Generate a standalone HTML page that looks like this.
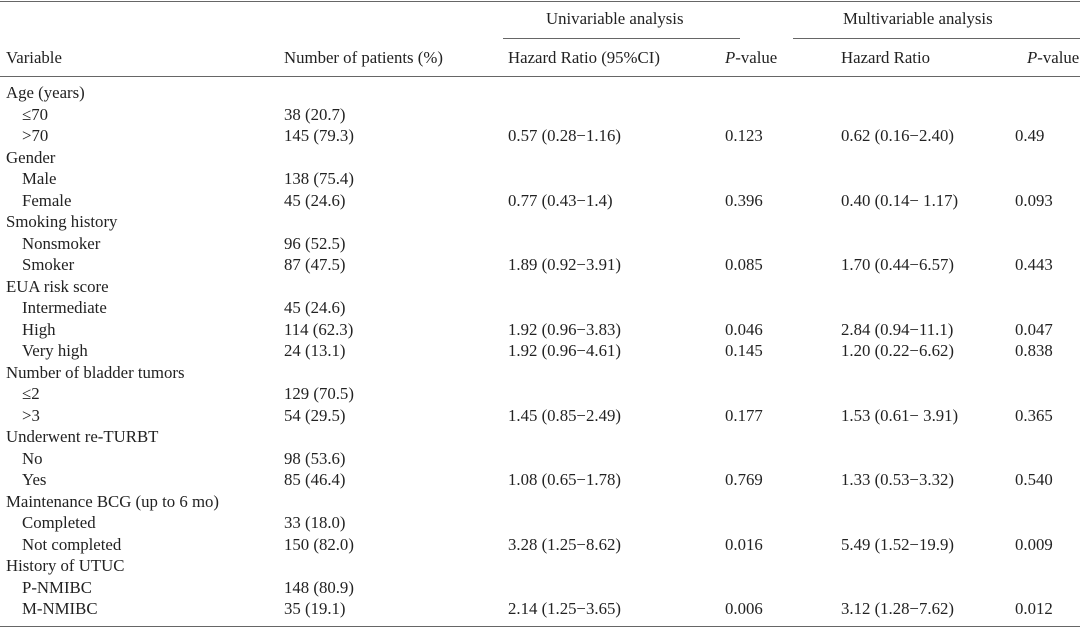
<!DOCTYPE html>
<html><head><meta charset="utf-8"><style>
body{margin:0;width:1080px;height:628px;background:#fff;position:relative;overflow:hidden;font-family:"Liberation Serif",serif;font-size:16.8px;color:#222}
.t{position:absolute;white-space:nowrap;line-height:20px}
.l{position:absolute;height:1.4px;background:#666}
</style></head><body>
<div class="l" style="left:0;width:1080px;top:0.5px"></div>
<div class="l" style="left:503px;width:237px;top:38px"></div>
<div class="l" style="left:793px;width:287px;top:38px"></div>
<div class="l" style="left:0;width:1080px;top:75.5px"></div>
<div class="l" style="left:0;width:1080px;top:625.5px"></div>
<div class="t" style="left:546px;top:9px">Univariable analysis</div>
<div class="t" style="left:843px;top:9px">Multivariable analysis</div>
<div class="t" style="left:6px;top:48px">Variable</div>
<div class="t" style="left:284px;top:48px">Number of patients (%)</div>
<div class="t" style="left:508px;top:48px">Hazard Ratio (95%CI)</div>
<div class="t" style="left:725px;top:48px"><i>P</i>-value</div>
<div class="t" style="left:841px;top:48px">Hazard Ratio</div>
<div class="t" style="left:1027px;top:48px"><i>P</i>-value</div>
<div id="rows"></div>
<script>
var R=[["Age (years)"],["≤70","38 (20.7)"],[">70","145 (79.3)","0.57 (0.28−1.16)","0.123","0.62 (0.16−2.40)","0.49"],
["Gender"],["Male","138 (75.4)"],["Female","45 (24.6)","0.77 (0.43−1.4)","0.396","0.40 (0.14− 1.17)","0.093"],
["Smoking history"],["Nonsmoker","96 (52.5)"],["Smoker","87 (47.5)","1.89 (0.92−3.91)","0.085","1.70 (0.44−6.57)","0.443"],
["EUA risk score"],["Intermediate","45 (24.6)"],["High","114 (62.3)","1.92 (0.96−3.83)","0.046","2.84 (0.94−11.1)","0.047"],
["Very high","24 (13.1)","1.92 (0.96−4.61)","0.145","1.20 (0.22−6.62)","0.838"],
["Number of bladder tumors"],["≤2","129 (70.5)"],[">3","54 (29.5)","1.45 (0.85−2.49)","0.177","1.53 (0.61− 3.91)","0.365"],
["Underwent re-TURBT"],["No","98 (53.6)"],["Yes","85 (46.4)","1.08 (0.65−1.78)","0.769","1.33 (0.53−3.32)","0.540"],
["Maintenance BCG (up to 6 mo)"],["Completed","33 (18.0)"],["Not completed","150 (82.0)","3.28 (1.25−8.62)","0.016","5.49 (1.52−19.9)","0.009"],
["History of UTUC"],["P-NMIBC","148 (80.9)"],["M-NMIBC","35 (19.1)","2.14 (1.25−3.65)","0.006","3.12 (1.28−7.62)","0.012"]];
var X=[284,508,725,841,1015],h="";
R.forEach(function(r,i){var top=93+i*21.5-10;
h+='<div class="t" style="left:'+(r.length==1?6:22)+'px;top:'+top+'px">'+r[0].replace(/</g,'&lt;').replace(/>/g,'&gt;')+'</div>';
for(var k=1;k<r.length;k++)h+='<div class="t" style="left:'+X[k-1]+'px;top:'+top+'px">'+r[k]+'</div>';});
document.getElementById('rows').innerHTML=h;
</script>
</body></html>
